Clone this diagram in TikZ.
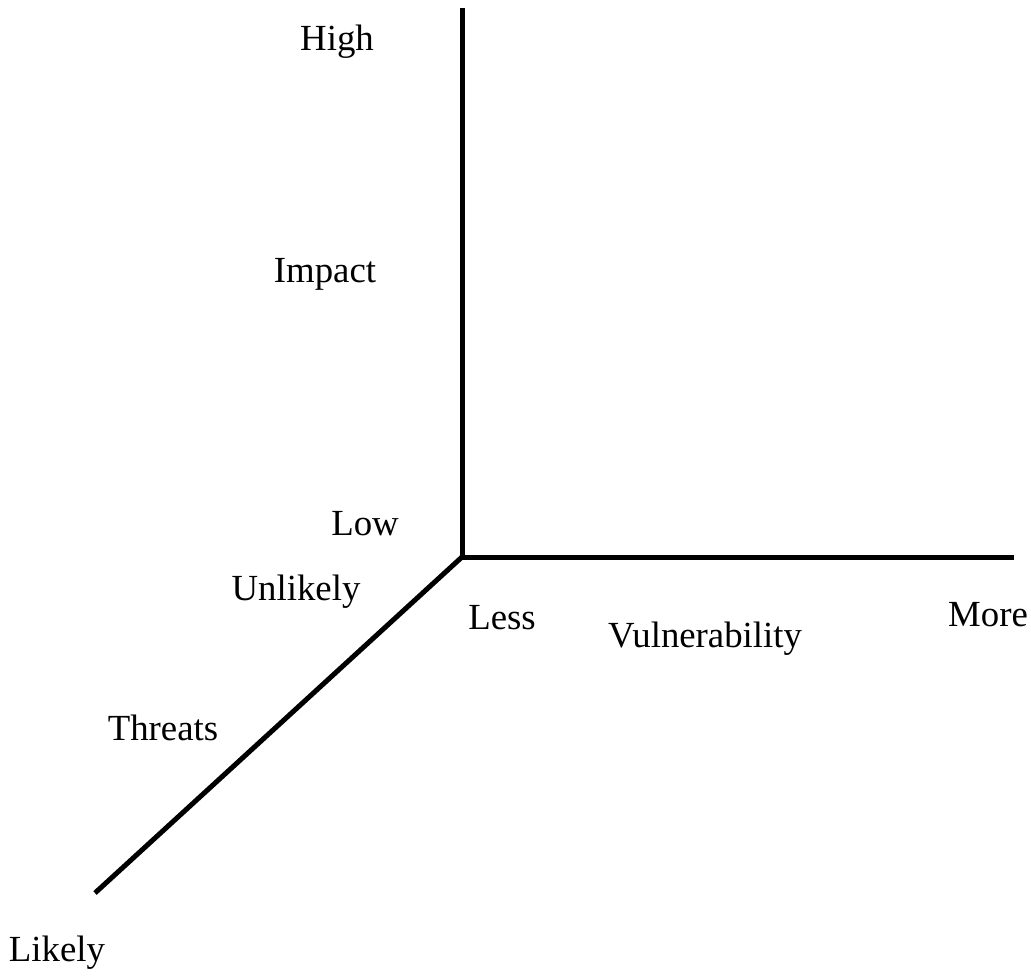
\documentclass[tikz,border=0pt]{standalone}
\usepackage{fontspec}
\setmainfont{Liberation Serif}
\begin{document}
\begin{tikzpicture}[x=0.5pt, y=-0.5pt, font=\fontsize{18.4}{20}\selectfont]
                \useasboundingbox (0,0) rectangle (1031,977);
                \coordinate (O) at (462,557);
                \coordinate (T) at (462,8);
                \coordinate (R) at (1014,557);
                \coordinate (D) at (95,893);

                \node (high) at (337,42) {High};
                \node (impact) at (325,274) {Impact};
                \node (low) at (365,524) {Low};
                \node (unlikely) at (296,592) {Unlikely};
                \node (less) at (502,618) {Less};
                \node (vuln) at (705,639) {Vulnerability};
                \node (more) at (988,615) {More};
                \node (threats) at (163,728) {Threats};
                \node (likely) at (57,953) {Likely};

                \draw[line width=2.5pt] (T) -- (O);
                \draw[line width=2.5pt] (O) -- (R);
                \draw[line width=2.5pt] (O) -- (D);
            \end{tikzpicture}
\end{document}
